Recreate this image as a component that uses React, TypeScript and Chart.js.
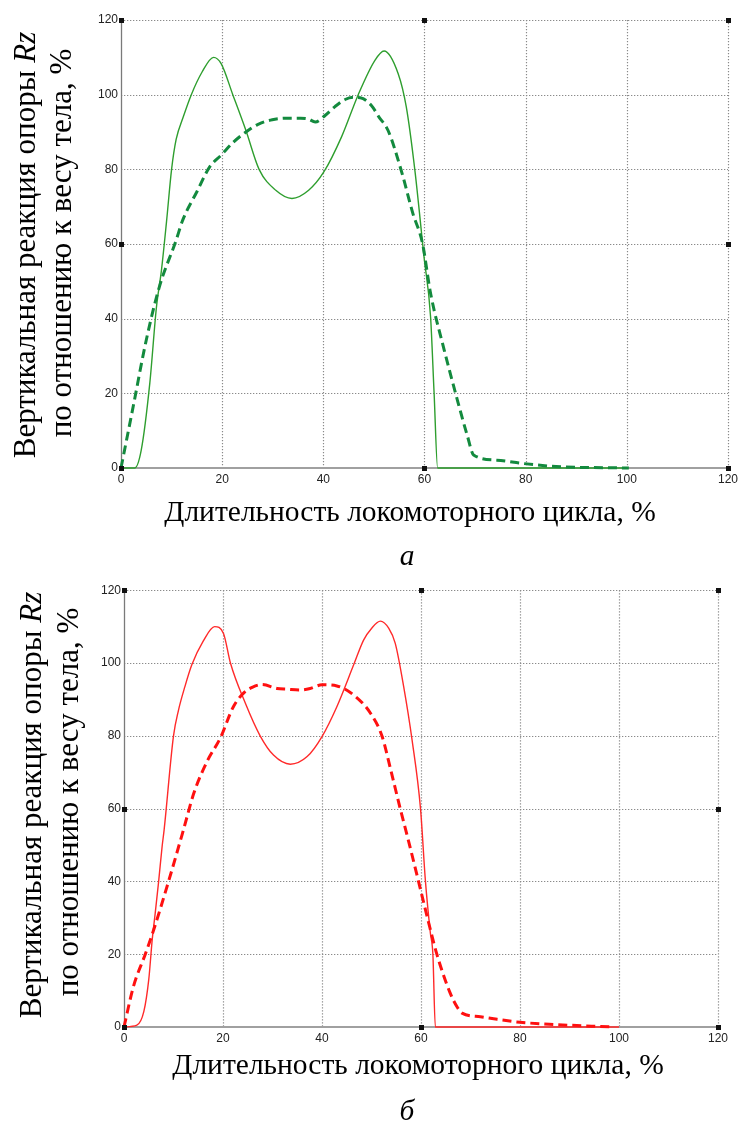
import React, { useEffect, useRef } from "react";
import { Chart, registerables } from "chart.js";

Chart.register(...registerables);

// ---------- Data ----------
const xTicks = [0, 20, 40, 60, 80, 100, 120];
const yTicks = [0, 20, 40, 60, 80, 100, 120];

// Chart "а" — green
const greenSolidX = [0, 2.7, 4, 5.7, 7, 8, 9, 10, 10.9, 12.3, 13.9, 16, 18.3, 19.8, 22.1, 24.7, 27.3, 30.6, 33.8, 37.1, 40.1, 43.6, 46.9, 50.2, 52, 54.8, 56.4, 58.1, 59.9, 61.2, 61.9, 62.6, 80, 100];
const greenSolidY = [0, 0, 4.8, 22.8, 43, 53, 66, 80, 88, 94, 100, 106, 110, 108.3, 100, 90.4, 80, 74.4, 72.2, 74.4, 79.3, 88.7, 100, 109.2, 111.7, 105.6, 96.7, 79.7, 56.6, 40.5, 20, 0, 0, 0];

const greenDashX = [0, 2.4, 5, 7.6, 10.9, 12.2, 15, 17.5, 19.8, 22, 24.7, 27, 29.9, 33, 35.5, 37, 38.4, 40.4, 42.3, 44.3, 46, 47.3, 49.5, 51, 52.8, 55.4, 57.7, 59.6, 61.2, 63.9, 66.5, 68.5, 69.7, 74.3, 79.5, 86, 100.4];
const greenDashY = [0, 16.4, 34.3, 48.6, 61, 66.4, 74, 80.6, 83.8, 87, 90, 92, 93.3, 93.7, 93.7, 93.5, 92.7, 94.5, 96.8, 98.7, 99.3, 99.2, 97.1, 94, 90.4, 79.7, 68.2, 60.2, 46.8, 31.6, 18.2, 8.5, 3.5, 2.1, 1.2, 0.4, 0];

// Chart "б" — red
const redSolidX = [0, 2.6, 4, 5, 5.7, 6.3, 7, 7.7, 8.1, 10, 11, 12.3, 13.7, 16, 18.3, 20.1, 21.5, 24.5, 27.5, 30.2, 33.6, 37, 40, 43, 46.4, 48.4, 50, 51.8, 53.5, 54.8, 56.5, 58.2, 59.9, 60.9, 61.9, 62.4, 62.9, 80, 100];
const redSolidY = [0, 0.5, 4.2, 13, 24, 31.2, 40, 49.6, 54.1, 80, 87, 93.5, 99.5, 106, 110, 108.1, 100, 89, 80, 74.7, 72.2, 74.3, 79.8, 88, 99.5, 106.3, 109.5, 111.5, 109.5, 105.4, 93.5, 78.8, 60, 40, 25.7, 20, 0, 0, 0];

const redDashX = [0, 1.9, 4.3, 6, 9, 12, 14.1, 16.8, 19.5, 22.1, 24.2, 26, 27.9, 30.9, 33, 35.6, 37.6, 40, 43, 46.4, 49.8, 52.1, 54, 55.8, 57.5, 59.5, 61.3, 63.2, 65.9, 67.3, 68.3, 72, 75.4, 80, 86.7, 98.8];
const redDashY = [0, 11.1, 20, 26.7, 40, 54.1, 64.2, 73, 79.5, 88, 91.8, 93.4, 94.1, 93, 92.8, 92.6, 93, 94, 93.7, 91.2, 86.2, 80, 70, 60, 51, 40, 30, 20, 9.3, 5.5, 3.8, 2.8, 2.1, 1.3, 0.7, 0];

const yTitleLine1 = "Вертикальная реакция опоры ";
const yTitleItalic = "Rz";
const yTitleLine2 = "по отношению к весу тела, %";
const xTitle = "Длительность локомоторного цикла, %";
const captionA = "а";
const captionB = "б";

const zip = (xs: number[], ys: number[]) => xs.map((x, i) => ({ x, y: ys[i] }));

interface Layout {
  width: number;
  height: number;
  plotLeft: number;
  plotRight: number;
  plotTop: number;
  plotBottom: number;
  y1x: number;
  y1y: number;
  y2x: number;
  y2y: number;
  xtx: number;
  xty: number;
  capx: number;
  capy: number;
}

const SERIF = "'Liberation Serif', 'Times New Roman', serif";
const SANS = "'Liberation Sans', Arial, sans-serif";
const Y_TITLE_SIZE = 31;
const X_TITLE_SIZE = 29.5;

function makeDecorPlugin(L: Layout, caption: string) {
  return {
    id: "decor",
    beforeDatasetsDraw(chart: any) {
      const { ctx, chartArea, scales } = chart;
      const xs = scales.x;
      const ys = scales.y;
      ctx.save();
      ctx.strokeStyle = "#8a8a8a";
      ctx.lineWidth = 1.2;
      ctx.setLineDash([1.3, 1.7]);
      xTicks.forEach((v) => {
        if (v === 0) return;
        const px = Math.round(xs.getPixelForValue(v)) + 0.5;
        ctx.beginPath();
        ctx.moveTo(px, chartArea.top);
        ctx.lineTo(px, chartArea.bottom);
        ctx.stroke();
      });
      yTicks.forEach((v) => {
        if (v === 0) return;
        const py = Math.round(ys.getPixelForValue(v)) + 0.5;
        ctx.beginPath();
        ctx.moveTo(chartArea.left, py);
        ctx.lineTo(chartArea.right, py);
        ctx.stroke();
      });
      ctx.setLineDash([]);
      // axes
      ctx.strokeStyle = "#7a7a7a";
      ctx.lineWidth = 1.3;
      ctx.beginPath();
      ctx.moveTo(chartArea.left + 0.5, chartArea.top);
      ctx.lineTo(chartArea.left + 0.5, chartArea.bottom);
      ctx.stroke();
      ctx.strokeStyle = "#a0a0a0";
      ctx.lineWidth = 2;
      ctx.beginPath();
      ctx.moveTo(chartArea.left, chartArea.bottom);
      ctx.lineTo(chartArea.right, chartArea.bottom);
      ctx.stroke();
      ctx.restore();
    },
    afterDraw(chart: any) {
      const { ctx, scales } = chart;
      const xs = scales.x;
      const ys = scales.y;
      ctx.save();
      // small square markers
      ctx.fillStyle = "#111";
      const marks: [number, number][] = [
        [0, 0], [60, 0], [120, 0], [0, 60], [120, 60], [0, 120], [60, 120], [120, 120],
      ];
      marks.forEach(([mx, my]) => {
        const px = xs.getPixelForValue(mx);
        const py = ys.getPixelForValue(my);
        ctx.fillRect(Math.round(px) - 2, Math.round(py) - 2, 5, 5);
      });
      // y title
      ctx.fillStyle = "#000";
      ctx.textBaseline = "middle";
      const normalFont = `${Y_TITLE_SIZE}px ${SERIF}`;
      const italicFont = `italic ${Y_TITLE_SIZE}px ${SERIF}`;
      ctx.font = normalFont;
      const w1 = ctx.measureText(yTitleLine1).width;
      ctx.font = italicFont;
      const w1i = ctx.measureText(yTitleItalic).width;
      ctx.save();
      ctx.translate(L.y1x, L.y1y);
      ctx.rotate(-Math.PI / 2);
      ctx.textAlign = "left";
      const start = -(w1 + w1i) / 2;
      ctx.font = normalFont;
      ctx.fillText(yTitleLine1, start, 0);
      ctx.font = italicFont;
      ctx.fillText(yTitleItalic, start + w1, 0);
      ctx.restore();
      ctx.save();
      ctx.translate(L.y2x, L.y2y);
      ctx.rotate(-Math.PI / 2);
      ctx.textAlign = "center";
      ctx.font = normalFont;
      ctx.fillText(yTitleLine2, 0, 0);
      ctx.restore();
      // x title
      ctx.textAlign = "center";
      ctx.font = `${X_TITLE_SIZE}px ${SERIF}`;
      ctx.fillText(xTitle, L.xtx, L.xty);
      // caption
      ctx.font = `italic ${X_TITLE_SIZE}px ${SERIF}`;
      ctx.fillText(caption, L.capx, L.capy);
      ctx.restore();
    },
  };
}

function Panel({ layout, caption, solidX, solidY, dashX, dashY, solidColor, dashColor, top }: any) {
  const ref = useRef<HTMLCanvasElement | null>(null);
  useEffect(() => {
    if (!ref.current) return;
    const L: Layout = layout;
    const chart = new Chart(ref.current, {
      type: "line",
      data: {
        datasets: [
          {
            data: zip(dashX, dashY),
            borderColor: dashColor,
            borderWidth: 3,
            borderDash: [9, 5],
            pointRadius: 0,
            cubicInterpolationMode: "monotone",
            fill: false,
            clip: 6,
          } as any,
          {
            data: zip(solidX, solidY),
            borderColor: solidColor,
            borderWidth: 1.4,
            pointRadius: 0,
            cubicInterpolationMode: "monotone",
            fill: false,
            clip: 6,
          } as any,
        ],
      },
      options: {
        animation: false,
        responsive: false,
        maintainAspectRatio: false,
        layout: {
          autoPadding: false,
          padding: { left: 0, right: L.width - L.plotRight, top: L.plotTop, bottom: 0 },
        } as any,
        plugins: { legend: { display: false }, tooltip: { enabled: false }, title: { display: false } },
        scales: {
          x: {
            type: "linear",
            min: 0,
            max: 120,
            afterBuildTicks: (s: any) => { s.ticks = xTicks.map((v) => ({ value: v })); },
            afterFit: (s: any) => { s.height = L.height - L.plotBottom; },
            grid: { display: false, drawTicks: false },
            border: { display: false },
            ticks: { font: { family: SANS, size: 12 }, color: "#222", padding: 4, maxRotation: 0 },
          },
          y: {
            type: "linear",
            min: 0,
            max: 120,
            afterBuildTicks: (s: any) => { s.ticks = yTicks.map((v) => ({ value: v })); },
            afterFit: (s: any) => { s.width = L.plotLeft; },
            grid: { display: false, drawTicks: false },
            border: { display: false },
            ticks: { font: { family: SANS, size: 12 }, color: "#222", padding: 3 },
          },
        },
      } as any,
      plugins: [makeDecorPlugin(L, caption)],
    });
    return () => chart.destroy();
  }, []);
  return (
    <canvas
      ref={ref}
      width={layout.width}
      height={layout.height}
      style={{ position: "absolute", left: 0, top, width: layout.width, height: layout.height }}
    />
  );
}

const layoutA: Layout = {
  width: 742, height: 580,
  plotLeft: 121, plotRight: 733, plotTop: 20, plotBottom: 468,
  y1x: 27, y1y: 245, y2x: 63, y2y: 243,
  xtx: 410, xty: 513, capx: 407, capy: 557,
};
const layoutB: Layout = {
  width: 742, height: 544,
  plotLeft: 124, plotRight: 718, plotTop: 10, plotBottom: 447,
  y1x: 33, y1y: 225, y2x: 70, y2y: 222,
  xtx: 418, xty: 486, capx: 407, capy: 532,
};

export default function App() {
  return (
    <div style={{ position: "absolute", left: 0, top: 0, width: 742, height: 1124, background: "#fff" }}>
      <Panel layout={layoutA} caption={captionA} top={0}
        solidX={greenSolidX} solidY={greenSolidY} dashX={greenDashX} dashY={greenDashY}
        solidColor="#2e9e2e" dashColor="#138a3e" />
      <Panel layout={layoutB} caption={captionB} top={580}
        solidX={redSolidX} solidY={redSolidY} dashX={redDashX} dashY={redDashY}
        solidColor="#ff2a2a" dashColor="#ff1010" />
    </div>
  );
}
